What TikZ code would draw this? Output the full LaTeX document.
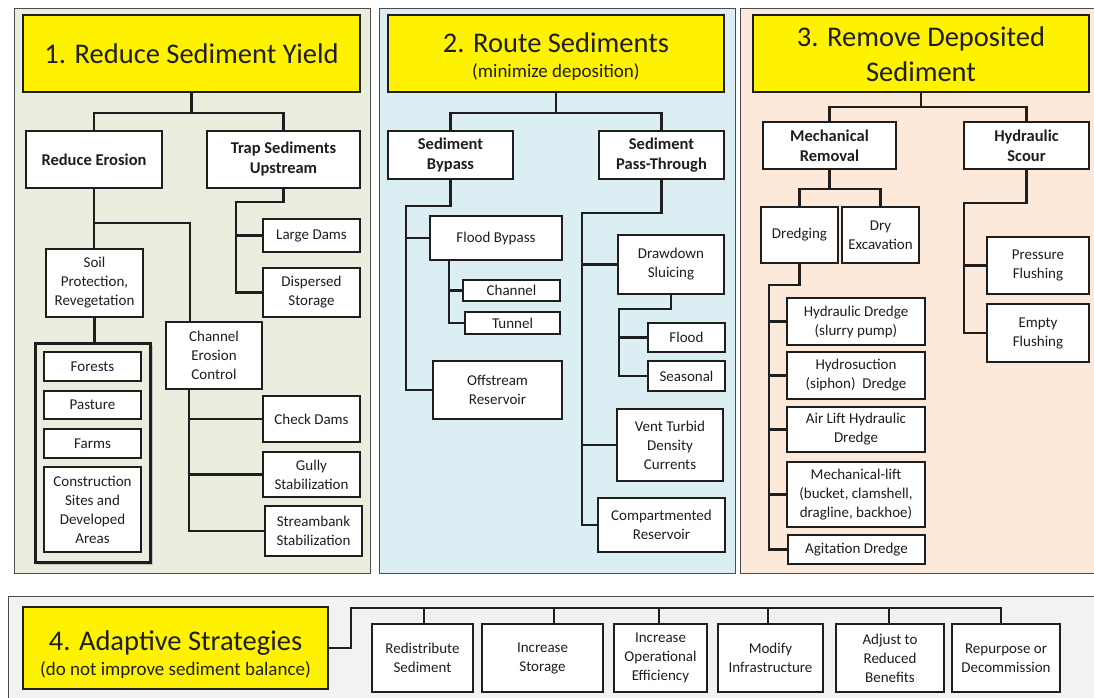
\documentclass[tikz,border=0pt]{standalone}
\usepackage{fontspec}
\setmainfont{Carlito}
\usetikzlibrary{shadows}
\definecolor{p1}{RGB}{235,238,222}
\definecolor{p2}{RGB}{218,238,243}
\definecolor{p3}{RGB}{253,233,217}
\definecolor{p4}{RGB}{242,242,242}
\definecolor{ink}{RGB}{30,30,30}
\tikzset{
 panel/.style={draw=black!70, line width=0.8pt},
 box/.style={draw=ink, line width=1.2pt, fill=white, inner sep=0pt, outer sep=0pt, align=center, text=ink,
   font=\fontsize{15}{19}\selectfont,
   drop shadow={shadow xshift=1.2pt, shadow yshift=-1.2pt, opacity=0.25}},
 boldbox/.style={font=\fontsize{16.5}{20}\selectfont\bfseries},
 titlebox/.style={fill=yellow},
 ttl/.style={inner sep=0pt, anchor=base, text=ink, font=\fontsize{28.5}{34}\selectfont},
 subttl/.style={inner sep=0pt, anchor=base, text=ink, font=\fontsize{19}{22}\selectfont},
 grpbox/.style={fill=p1, draw=ink, line width=3pt, drop shadow={shadow xshift=3pt, shadow yshift=-3pt, opacity=0.35}},
 conn/.style={draw=ink, line width=2.2pt},
}
\newcommand\bx[7][]{\node[box,#1,minimum width={#4-#2},minimum height={#5-#3}] (#6) at ({(#2+#4)/2},{(#3+#5)/2}) {#7};}
\begin{document}
\begin{tikzpicture}[x=1pt,y=-1pt]
\useasboundingbox (0,0) rectangle (1094,698);
\fill[white] (0,0) rectangle (1094,698);
% panels
\draw[panel, fill=p1] (14,8) rectangle (370,573);
\draw[panel, fill=p2] (379,8) rectangle (735,573);
\draw[panel, fill=p3] (740,8) rectangle (1097,573);
\draw[panel, fill=p4] (8,596) rectangle (1097,701);

% ---------- Panel 1
\bx[titlebox]{23}{15}{360}{92}{t1}{}
\node[ttl] (t1a) at (191.5,64) {1. Reduce Sediment Yield};
\bx[boldbox]{26}{131}{162}{188}{re}{Reduce Erosion}
\bx[boldbox]{207}{131}{360}{188}{ts}{Trap Sediments\\Upstream}
\bx{263}{219}{360}{252}{ld}{Large Dams}
\bx{263}{268}{360}{317}{dsp}{Dispersed\\Storage}
\bx{46}{249}{143}{317}{soil}{Soil\\Protection,\\Revegetation}
\bx[grpbox]{35}{343}{150}{562}{grp}{}
\bx{44}{352}{141}{381}{fo}{Forests}
\bx{44}{391}{141}{419}{pa}{Pasture}
\bx{44}{429}{141}{458}{fa}{Farms}
\bx{44}{467}{141}{552}{cs}{Construction\\Sites and\\Developed\\Areas}
\bx{166}{322}{262}{389}{cec}{Channel\\Erosion\\Control}
\bx{263}{396}{360}{442}{cd}{Check Dams}
\bx{263}{452}{360}{497}{gs}{Gully\\Stabilization}
\bx{265}{506}{362}{556}{ss}{Streambank\\Stabilization}

\coordinate (j1) at (192,113);
\draw[conn] (t1.south) -- (t1.south |- j1);
\draw[conn] (re.north) |- (j1) -| (ts.north);
\coordinate (j2) at (190,223);
\draw[conn] (re.south) -- (re.south |- soil.north);
\draw[conn] (re.south |- j2) -- (j2) -- (j2 |- cec.north);
\draw[conn] (soil.south) -- (soil.south |- grp.north);
\coordinate (s1) at (236,202);
\draw[conn] (ts.south) |- (s1) |- (dsp.west);
\draw[conn] (s1) |- (ld.west);
\coordinate (s2) at (189,0);
\draw[conn] (s2 |- cec.south) |- (ss.west);
\draw[conn] (s2 |- cec.south) |- (cd.west);
\draw[conn] (s2 |- cec.south) |- (gs.west);

% ---------- Panel 2
\bx[titlebox]{388}{15}{724}{92}{t2}{}
\node[ttl] (t2a) at (556,53) {2. Route Sediments};
\node[subttl] (t2b) at (556,78) {(minimize deposition)};
\bx[boldbox]{388}{131}{513}{179}{sb}{Sediment\\Bypass}
\bx[boldbox]{599}{131}{724}{179}{pt}{Sediment\\Pass-Through}
\bx{430}{216}{562}{260}{fb}{Flood Bypass}
\bx{463}{280}{560}{301}{ch}{Channel}
\bx{465}{312}{560}{334}{tu}{Tunnel}
\bx{433}{361}{562}{419}{os}{Offstream\\Reservoir}
\bx{618}{235}{724}{294}{dd}{Drawdown\\Sluicing}
\bx{648}{323}{725}{352}{fl}{Flood}
\bx{648}{361}{725}{391}{se}{Seasonal}
\bx{617}{409}{723}{481}{vt}{Vent Turbid\\Density\\Currents}
\bx{598}{498}{725}{552}{cr}{Compartmented\\Reservoir}

\coordinate (j3) at (556,113);
\draw[conn] (t2.south) -- (t2.south |- j3);
\draw[conn] (sb.north) |- (j3) -| (pt.north);
\coordinate (s3) at (406,206);
\draw[conn] (sb.south) |- (s3) |- (os.west);
\draw[conn] (s3) |- (fb.west);
\coordinate (s4) at (449,0);
\draw[conn] (s4 |- fb.south) |- (tu.west);
\draw[conn] (s4 |- fb.south) |- (ch.west);
\coordinate (s5) at (582,213);
\draw[conn] (pt.south) |- (s5) |- (cr.west);
\draw[conn] (s5) |- (dd.west);
\draw[conn] (s5) |- (vt.west);
\coordinate (s6) at (619,309);
\draw[conn] (dd.south) |- (s6) |- (se.west);
\draw[conn] (s6) |- (fl.west);

% ---------- Panel 3
\bx[titlebox]{753}{15}{1089}{92}{t3}{}
\node[ttl] (t3a) at (921,47) {3. Remove Deposited};
\node[ttl] (t3b) at (921,82) {Sediment};
\bx[boldbox]{763}{122}{896}{169}{mr}{Mechanical\\Removal}
\bx[boldbox]{964}{122}{1089}{169}{hs}{Hydraulic\\Scour}
\bx{761}{207}{838}{263}{dr}{Dredging}
\bx{842}{207}{919}{263}{de}{Dry\\Excavation}
\bx{787}{298}{925}{345}{hd}{Hydraulic Dredge\\(slurry pump)}
\bx{787}{352}{925}{399}{hy}{Hydrosuction\\(siphon)\ \ Dredge}
\bx{787}{407}{925}{452}{al}{Air Lift Hydraulic\\Dredge}
\bx{787}{462}{925}{527}{ml}{Mechanical-lift\\(bucket, clamshell,\\dragline, backhoe)}
\bx{788}{535}{925}{564}{ag}{Agitation Dredge}
\bx{987}{237}{1089}{294}{pf}{Pressure\\Flushing}
\bx{987}{304}{1089}{362}{ef}{Empty\\Flushing}

\coordinate (j4) at (921,107);
\draw[conn] (t3.south) -- (t3.south |- j4);
\draw[conn] (mr.north) |- (j4) -| (hs.north);
\coordinate (j5) at (830,189);
\draw[conn] (mr.south) -- (mr.south |- j5);
\draw[conn] (dr.north) |- (j5) -| (de.north);
\coordinate (s7) at (769,285);
\draw[conn] (dr.south) |- (s7) |- (ag.west);
\draw[conn] (s7) |- (hd.west);
\draw[conn] (s7) |- (hy.west);
\draw[conn] (s7) |- (al.west);
\draw[conn] (s7) |- (ml.west);
\coordinate (s8) at (964,203);
\draw[conn] (hs.south) |- (s8) |- (ef.west);
\draw[conn] (s8) |- (pf.west);

% ---------- Panel 4
\bx[titlebox]{23}{607}{328}{689}{t4}{}
\node[ttl] (t4a) at (175.5,650) {4. Adaptive Strategies};
\node[subttl] (t4b) at (175.5,675) {(do not improve sediment balance)};
\bx{372}{624}{473}{692}{a1}{Redistribute\\Sediment}
\bx{482}{624}{603}{692}{a2}{Increase\\Storage}
\bx{614}{624}{707}{692}{a3}{Increase\\Operational\\Efficiency}
\bx{718}{624}{823}{692}{a4}{Modify\\Infrastructure}
\bx{836}{624}{944}{692}{a5}{Adjust to\\Reduced\\Benefits}
\bx{952}{624}{1060}{692}{a6}{Repurpose or\\Decommission}

\coordinate (j6) at (351,608);
\coordinate (j7) at (1001,608);
\draw[conn] (t4.east) -| (j6) -- (j7) -- (j7 |- a6.north);
\coordinate (k1) at (424,608);
\coordinate (k2) at (554,608);
\coordinate (k3) at (659,608);
\coordinate (k4) at (768,608);
\coordinate (k5) at (889,608);
\draw[conn] (k1) -- (k1 |- a1.north);
\draw[conn] (k2) -- (k2 |- a2.north);
\draw[conn] (k3) -- (k3 |- a3.north);
\draw[conn] (k4) -- (k4 |- a4.north);
\draw[conn] (k5) -- (k5 |- a5.north);
\end{tikzpicture}
\end{document}
